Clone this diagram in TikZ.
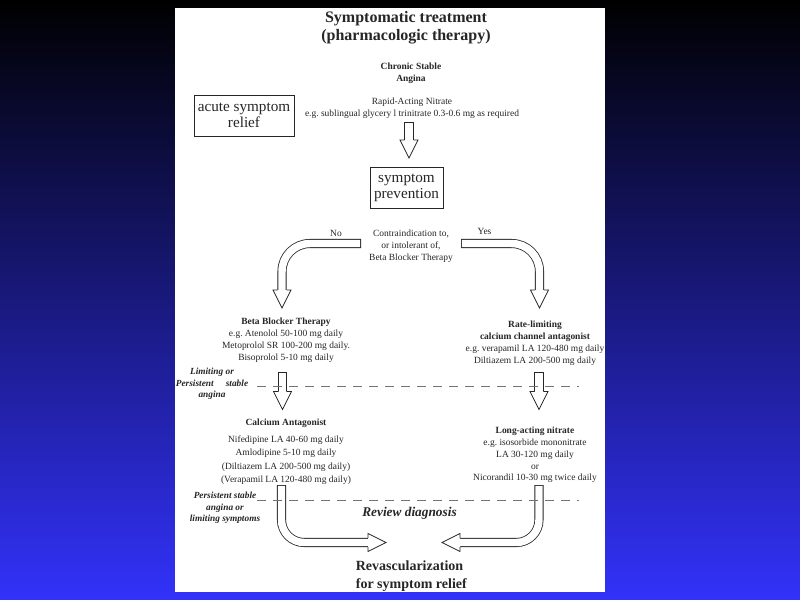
\documentclass[tikz,border=0pt]{standalone}
\usepackage{fontspec}
\setmainfont{Liberation Serif}
\frenchspacing
\definecolor{ink}{gray}{0.15}
\definecolor{slideblue}{RGB}{50,50,250}

\begin{document}
\begin{tikzpicture}[
		x=0.75pt, y=-0.75pt,
		every node/.style={inner sep=0pt, text=ink},
		txt/.style={anchor=north, align=center, font=\fontsize{7.1}{8.8}\selectfont},
		lst/.style={anchor=north, align=center, font=\fontsize{7.1}{10}\selectfont},
		side/.style={anchor=north, align=center, font=\fontsize{7}{8.6}\selectfont\bfseries\itshape},
		big/.style={anchor=north, align=center, font=\fontsize{12}{13.5}\selectfont\bfseries},
		box/.style={draw=ink, line width=0.6pt, align=center, minimum height=30.75pt,
			font=\fontsize{11.4}{12}\selectfont},
		shaft/.style={draw=ink, line width=0.6pt, double=white, double distance=5.6pt,
			line cap=rect, shorten <=3.4pt, shorten >=13.5pt},
		dashline/.style={draw=black!55, line width=0.6pt, dash pattern=on 6.5pt off 5.5pt},
		blockhead/.pic={\draw[ink, line width=0.6pt, fill=white, line join=miter]
			(-4.5,-18) -- (-9,-18) -- (0,0) -- (9,-18) -- (4.5,-18);},
	]
	% slide and page
	\shade[top color=black, bottom color=slideblue] (0,0) rectangle (800,600);
	\fill[white] (175,8) rectangle (605,592);

	% text blocks
	\node[big] (title) at (406,11) {Symptomatic treatment\\(pharmacologic therapy)};
	\node[txt, font=\fontsize{7.1}{8.8}\selectfont\bfseries] (angina) at (411,63) {Chronic Stable\\Angina};
	\node[box, minimum width=75pt] (acute) at (244,115.5) {acute symptom\\relief};
	\node[txt] (nitrate) at (412,97.5) {Rapid-Acting Nitrate\\e.g. sublingual glycery l trinitrate 0.3-0.6 mg as required};
	\node[box, minimum width=54.75pt] (prevent) at (406.5,187.5) {symptom\\prevention};
	\node[txt] (contra) at (411,230) {Contraindication to,\\or intolerant of,\\Beta Blocker Therapy};
	\node[txt] (no) at (336,230) {No};
	\node[txt] (yes) at (484.5,228) {Yes};
	\node[txt, font=\fontsize{7.1}{9}\selectfont] (beta) at (286,318)
		{\textbf{Beta Blocker Therapy}\\e.g. Atenolol 50-100 mg daily\\Metoprolol SR 100-200 mg daily.\\Bisoprolol 5-10 mg daily};
	\node[txt, font=\fontsize{7.1}{9}\selectfont] (ratelim) at (535,321)
		{\textbf{Rate-limiting}\\\textbf{calcium channel antagonist}\\e.g. verapamil LA 120-480 mg daily\\Diltiazem LA 200-500 mg daily};
	\node[side] (limiting) at (212,368) {Limiting or\\Persistent\hspace{1.3em}stable\\angina};
	\node[lst] (calcium) at (286,419)
		{\textbf{Calcium Antagonist}\\[2.6pt]Nifedipine LA 40-60 mg daily\\Amlodipine 5-10 mg daily\\(Diltiazem LA 200-500 mg daily)\\(Verapamil LA 120-480 mg daily)};
	\node[txt] (longact) at (535,427)
		{\textbf{Long-acting nitrate}\\e.g. isosorbide mononitrate\\LA 30-120 mg daily\\or\\Nicorandil 10-30 mg twice daily};
	\node[side] (persist) at (225,492) {Persistent stable\\angina or\\limiting symptoms};
	\node[anchor=north, font=\fontsize{10}{12}\selectfont\bfseries\itshape] (review) at (409.5,507) {Review diagnosis};
	\node[anchor=north west, align=left, font=\fontsize{10.5}{13.5}\selectfont\bfseries] (revasc) at (355.6,560.5)
		{Revascularization\\for symptom relief};

	% arrow ends
	\coordinate (nitrate-out) at (409,122);
	\coordinate (prevent-in) at (409,158);
	\coordinate (no-out) at (361,243.5);
	\coordinate (beta-in) at (282,308);
	\coordinate (yes-out) at (461,243.5);
	\coordinate (ratelim-in) at (539.5,308);
	\coordinate (beta-out) at (282.5,372);
	\coordinate (calcium-in) at (282.5,409.5);
	\coordinate (ratelim-out) at (539,372);
	\coordinate (longact-in) at (539,409.5);
	\coordinate (calcium-out) at (281.5,485);
	\coordinate (revasc-l) at (386,542.5);
	\coordinate (longact-out) at (539,485);
	\coordinate (revasc-r) at (442,542.5);

	% block arrows
	\draw[shaft] (nitrate-out) -- (prevent-in);
	\pic at (prevent-in) {blockhead};
	\draw[shaft, rounded corners=21pt] (no-out) -| (beta-in);
	\pic at (beta-in) {blockhead};
	\draw[shaft, rounded corners=21pt] (yes-out) -| (ratelim-in);
	\pic at (ratelim-in) {blockhead};
	\draw[shaft] (beta-out) -- (calcium-in);
	\pic at (calcium-in) {blockhead};
	\draw[shaft] (ratelim-out) -- (longact-in);
	\pic at (longact-in) {blockhead};
	\draw[shaft, rounded corners=17pt] (calcium-out) |- (revasc-l);
	\pic[rotate=90] at (revasc-l) {blockhead};
	\draw[shaft, rounded corners=17pt] (longact-out) |- (revasc-r);
	\pic[rotate=-90] at (revasc-r) {blockhead};

	% review levels
	\draw[dashline] (257,386.5) -- (579,386.5);
	\draw[dashline] (257,500.5) -- (579,500.5);
\end{tikzpicture}
\end{document}
